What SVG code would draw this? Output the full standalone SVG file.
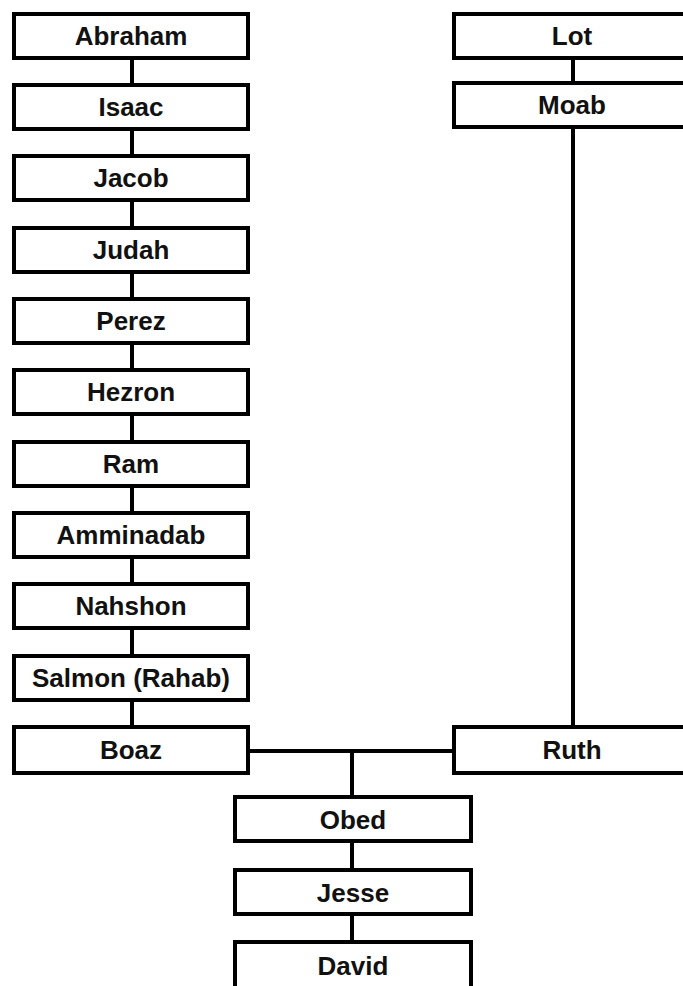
<svg xmlns="http://www.w3.org/2000/svg" width="683" height="986" viewBox="0 0 683 986">
<style>
.box{fill:#fff;stroke:#000;stroke-width:4}
.lbl{font-family:"Liberation Sans",Arial,sans-serif;font-weight:bold;font-size:26px;text-anchor:middle;fill:#111}
.con{stroke:#000;stroke-width:4;fill:none}
</style>
<rect width="683" height="986" fill="#fff"/>
<g id="connectors">
<line class="con" x1="132" y1="58" x2="132" y2="84"/>
<line class="con" x1="132" y1="129" x2="132" y2="156"/>
<line class="con" x1="132" y1="200" x2="132" y2="227"/>
<line class="con" x1="132" y1="272" x2="132" y2="298"/>
<line class="con" x1="132" y1="343" x2="132" y2="370"/>
<line class="con" x1="132" y1="414" x2="132" y2="441"/>
<line class="con" x1="132" y1="486" x2="132" y2="513"/>
<line class="con" x1="132" y1="557" x2="132" y2="584"/>
<line class="con" x1="132" y1="628" x2="132" y2="655"/>
<line class="con" x1="132" y1="700" x2="132" y2="727"/>
<line class="con" x1="573" y1="58" x2="573" y2="84"/>
<line class="con" x1="573" y1="127" x2="573" y2="727"/>
<line class="con" x1="248" y1="751" x2="454" y2="751"/>
<line class="con" x1="352" y1="751" x2="352" y2="797"/>
<line class="con" x1="352" y1="841" x2="352" y2="871"/>
<line class="con" x1="352" y1="914" x2="352" y2="942"/>
</g>
<g id="abraham"><rect class="box" x="14" y="14" width="234" height="44"/><text class="lbl" x="131" y="45">Abraham</text></g>
<g id="isaac"><rect class="box" x="14" y="85" width="234" height="44"/><text class="lbl" x="131" y="116">Isaac</text></g>
<g id="jacob"><rect class="box" x="14" y="156" width="234" height="44"/><text class="lbl" x="131" y="187">Jacob</text></g>
<g id="judah"><rect class="box" x="14" y="228" width="234" height="44"/><text class="lbl" x="131" y="259">Judah</text></g>
<g id="perez"><rect class="box" x="14" y="299" width="234" height="44"/><text class="lbl" x="131" y="330">Perez</text></g>
<g id="hezron"><rect class="box" x="14" y="370" width="234" height="44"/><text class="lbl" x="131" y="401">Hezron</text></g>
<g id="ram"><rect class="box" x="14" y="442" width="234" height="44"/><text class="lbl" x="131" y="473">Ram</text></g>
<g id="amminadab"><rect class="box" x="14" y="513" width="234" height="44"/><text class="lbl" x="131" y="544">Amminadab</text></g>
<g id="nahshon"><rect class="box" x="14" y="584" width="234" height="44"/><text class="lbl" x="131" y="615">Nahshon</text></g>
<g id="salmon"><rect class="box" x="14" y="656" width="234" height="44"/><text class="lbl" x="131" y="687">Salmon (Rahab)</text></g>
<g id="boaz"><rect class="box" x="14" y="727" width="234" height="46"/><text class="lbl" x="131" y="759">Boaz</text></g>
<g id="lot"><rect class="box" x="454" y="14" width="240" height="44"/><text class="lbl" x="572" y="45">Lot</text></g>
<g id="moab"><rect class="box" x="454" y="83" width="240" height="44"/><text class="lbl" x="572" y="114">Moab</text></g>
<g id="ruth"><rect class="box" x="454" y="727" width="240" height="46"/><text class="lbl" x="572" y="759">Ruth</text></g>
<g id="obed"><rect class="box" x="235" y="797" width="236" height="44"/><text class="lbl" x="353" y="829">Obed</text></g>
<g id="jesse"><rect class="box" x="235" y="870" width="236" height="44"/><text class="lbl" x="353" y="902">Jesse</text></g>
<g id="david"><rect class="box" x="235" y="942" width="236" height="60"/><text class="lbl" x="353" y="975">David</text></g>
</svg>
